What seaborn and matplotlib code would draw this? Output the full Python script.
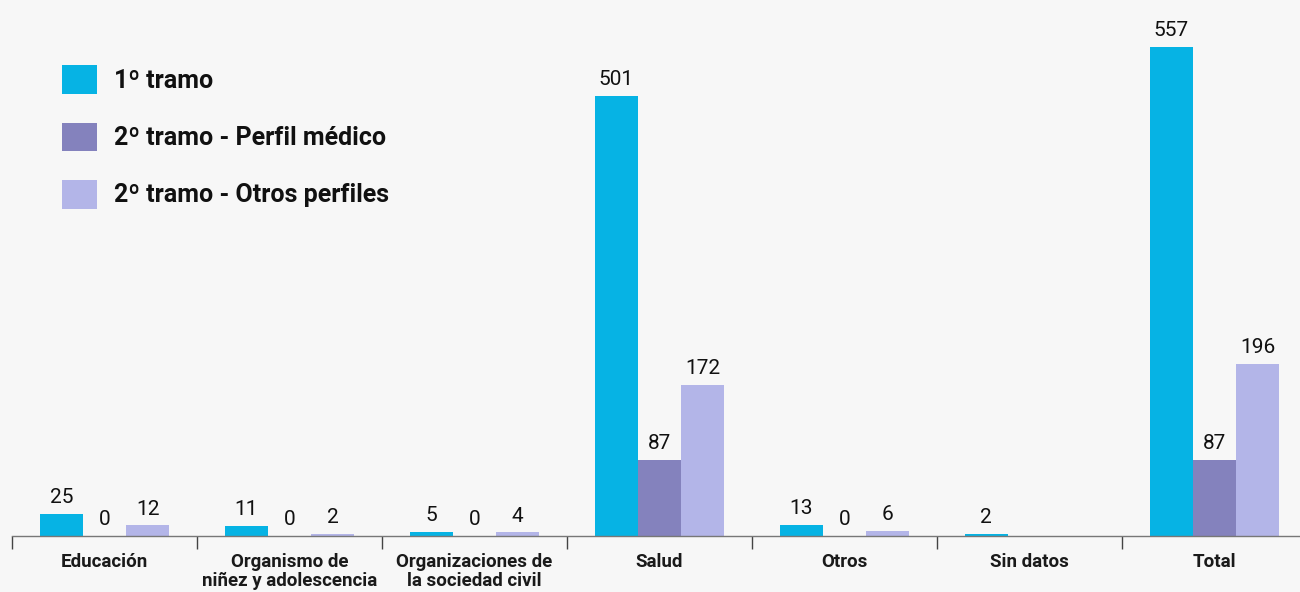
import numpy as np
import pandas as pd
import matplotlib.pyplot as plt
import seaborn as sns
from matplotlib.patches import Patch

# Datos
categorias = ["Educación", "Organismo de\nniñez y adolescencia", "Organizaciones de\nla sociedad civil",
              "Salud", "Otros", "Sin datos", "Total"]
tramo1 = [25, 11, 5, 501, 13, 2, 557]
tramo2_medico = [0, 0, 0, 87, 0, np.nan, 87]
tramo2_otros = [12, 2, 4, 172, 6, np.nan, 196]
series = ["1º tramo", "2º tramo - Perfil médico", "2º tramo - Otros perfiles"]
colores = ["#06b3e4", "#8482bd", "#b3b5e8"]

df = pd.DataFrame({
    "categoria": categorias * 3,
    "serie": [series[0]] * 7 + [series[1]] * 7 + [series[2]] * 7,
    "valor": tramo1 + tramo2_medico + tramo2_otros,
})

sns.set_style("white")
plt.rcParams["font.family"] = ["Roboto", "DejaVu Sans"]

fig = plt.figure(figsize=(13, 5.92), dpi=100, facecolor="#f7f7f7")
ax = fig.add_axes([12 / 1300, (592 - 536) / 592, 1295 / 1300, 536 / 592])
ax.set_facecolor("#f7f7f7")

sns.barplot(data=df, x="categoria", y="valor", hue="serie", hue_order=series,
            palette=colores, width=0.7, ax=ax, legend=False, saturation=1,
            linewidth=0, edgecolor="none")

for cont in ax.containers:
    vals = cont.datavalues
    labels = ["" if np.isnan(v) else f"{v:.0f}" for v in vals]
    ax.bar_label(cont, labels=labels, padding=5, fontsize=15, color="#111111")

ax.set_ylim(0, 610)
ax.set_xlim(-0.5, 6.5)
ax.set_xlabel("")
ax.set_ylabel("")
ax.set_yticks([])
ax.set_xticks(range(7))
ax.set_xticklabels(categorias, fontsize=13.5, fontweight="bold", color="#1a1a1a", linespacing=1.1)
ax.tick_params(axis="x", which="major", length=0, pad=12)
ax.set_xticks(np.arange(-0.5, 6.5, 1), minor=True)
ax.tick_params(axis="x", which="minor", bottom=True, length=9, width=1, color="#444444", direction="out")
for s in ["top", "right", "left"]:
    ax.spines[s].set_visible(False)
ax.spines["bottom"].set_color("#777777")
ax.spines["bottom"].set_linewidth(1)

handles = [Patch(facecolor=c, edgecolor="none") for c in colores]
leg = ax.legend(handles, series, loc="upper left", bbox_to_anchor=(0.0386, 0.878),
                frameon=False, fontsize=18, handlelength=1.4, handleheight=1.4,
                labelspacing=1.13, handletextpad=0.7, borderaxespad=0, borderpad=0)
for t in leg.get_texts():
    t.set_fontweight("bold")
    t.set_color("#111111")

fig.savefig("out.png", dpi=100, facecolor=fig.get_facecolor())
